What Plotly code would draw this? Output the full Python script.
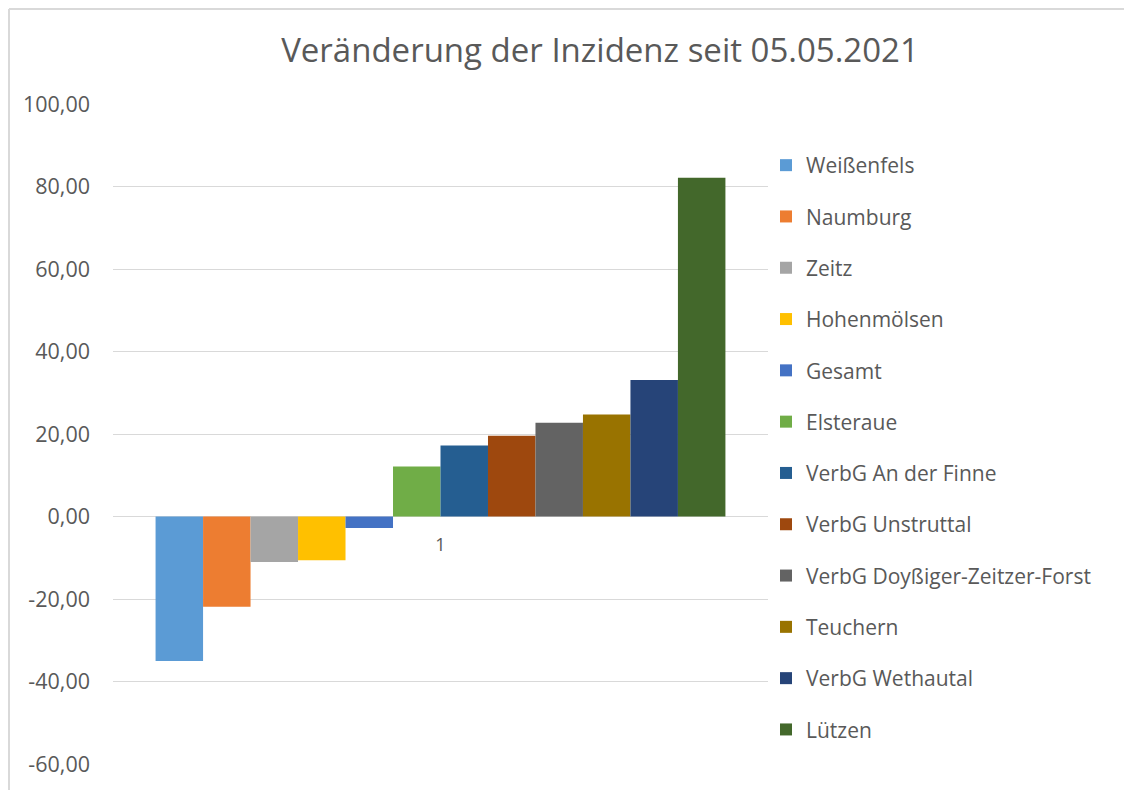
import plotly.graph_objects as go

categories = ["1"]
series_names = [
    "Weißenfels", "Naumburg", "Zeitz", "Hohenmölsen", "Gesamt", "Elsteraue",
    "VerbG An der Finne", "VerbG Unstruttal", "VerbG Doyßiger-Zeitzer-Forst",
    "Teuchern", "VerbG Wethautal", "Lützen",
]
series_values = [-35.0, -21.9, -11.0, -10.6, -2.8, 12.1, 17.2, 19.6, 22.7, 24.7, 33.1, 82.1]
series_colors = [
    "#5B9BD5", "#ED7D31", "#A5A5A5", "#FFC000", "#4472C4", "#70AD47",
    "#255E91", "#9E480E", "#636363", "#997300", "#264478", "#43682B",
]
y_ticks = [-60, -40, -20, 0, 20, 40, 60, 80, 100]
y_tick_labels = ["-60,00", "-40,00", "-20,00", "0,00", "20,00", "40,00", "60,00", "80,00", "100,00"]

TXT = "#595959"
FONT = "Open Sans"

fig = go.Figure()
for i, (name, val, col) in enumerate(zip(series_names, series_values, series_colors)):
    fig.add_trace(go.Bar(
        x=categories, y=[val], name=name, marker=dict(color=col, line=dict(width=0)),
        legendgroup=f"g{i}",
    ))

W, H = 1132, 790
OFF = 8  # page body offset
L, R, T, B = 113 - OFF, 364 + OFF, 104 - OFF, 26 + OFF
pw, ph = W - L - R, H - T - B

zero_pos = 60 / 160.0

fig.update_layout(
    width=W, height=H,
    margin=dict(l=L, r=R, t=T, b=B, autoexpand=False),
    paper_bgcolor="white", plot_bgcolor="white",
    barmode="group", bargap=0.13, bargroupgap=0,
    font=dict(family=FONT, color=TXT, size=21),
    title=dict(text="Veränderung der Inzidenz seit 05.05.2021",
               x=(600 - OFF) / W, xanchor="center", y=1 - (50 - OFF) / H, yanchor="middle",
               font=dict(family=FONT, size=33, color=TXT)),
    xaxis=dict(anchor="free", position=zero_pos, showgrid=False, showline=False,
               zeroline=False, ticks="", tickfont=dict(size=18, color=TXT),
               ticklabelstandoff=15),
    yaxis=dict(range=[-60, 100], tickvals=y_ticks, ticktext=y_tick_labels,
               showgrid=True, gridcolor="#D9D9D9", gridwidth=1,
               zeroline=True, zerolinecolor="#D9D9D9", zerolinewidth=1,
               showline=False, ticks="", ticklabelstandoff=22,
               tickfont=dict(size=21.5, color=TXT)),
    legend=dict(x=(786 - 20 - OFF - L) / pw, xanchor="left",
                y=1 - (145 - OFF - T) / ph, yanchor="top",
                tracegroupgap=21, font=dict(size=21, color=TXT),
                bgcolor="rgba(0,0,0,0)", itemclick=False),
    showlegend=True,
)

# chart border (left and top edges visible), placed at the very edge of the svg
bx = (1 - L) / pw
by = (H - B - 1) / ph
fig.add_shape(type="line", xref="paper", yref="paper",
              x0=bx, x1=bx, y0=-0.2, y1=by,
              line=dict(color="#D9D9D9", width=2))
fig.add_shape(type="line", xref="paper", yref="paper",
              x0=bx, x1=(1150 - L) / pw, y0=by, y1=by,
              line=dict(color="#D9D9D9", width=2))

fig.write_html("out.html")
